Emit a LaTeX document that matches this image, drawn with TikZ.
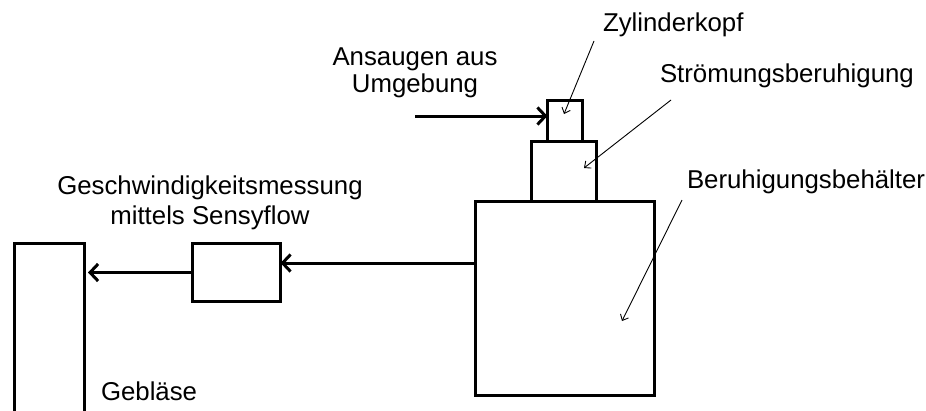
\documentclass[tikz,border=0pt]{standalone}
\usepackage{fontspec}
\setmainfont{Liberation Sans}
\usetikzlibrary{arrows.meta}
\begin{document}
\begin{tikzpicture}[x=1pt,y=-1pt,
  box/.style={draw, line width=3pt, inner sep=0pt, outer sep=0pt},
  lbl/.style={inner sep=0pt, outer sep=0pt, font=\fontsize{25.8}{26}\selectfont},
  flow/.style={line width=3pt, -{Straight Barb[length=8pt,width=17pt]}},
  lead/.style={line width=0.9pt, -{Straight Barb[length=5pt,width=9pt]}}]
\useasboundingbox (0,0) rectangle (926,410);
\clip (0,0) rectangle (926,410);
% boxes
\node[box, minimum width=70pt, minimum height=186pt] (geblaese) at (49,336.5) {};
\node[box, minimum width=88pt, minimum height=58pt] (sensy) at (236.5,272.5) {};
\node[box, minimum width=179pt, minimum height=194pt] (beh) at (565,298.5) {};
\node[box, minimum width=65pt, minimum height=60pt] (stroem) at (564,171.5) {};
\node[box, minimum width=35pt, minimum height=41pt] (zyl) at (565,121) {};
% labels
\node[lbl, anchor=base west] (tzyl) at (603,31) {Zylinderkopf};
\node[lbl, anchor=base west] (tstroem) at (660,82) {Strömungsberuhigung};
\node[lbl, anchor=base west] (tbeh) at (687,188) {Beruhigungsbehälter};
\node[lbl, anchor=base west] (tgeb) at (101,400) {Gebläse};
\node[lbl, anchor=north, align=center, font=\fontsize{25.8}{26.5}\selectfont] (tans) at (415,48) {Ansaugen aus\\Umgebung};
\node[lbl, anchor=north, align=center, font=\fontsize{25.8}{30}\selectfont] (tgesch) at (210,176) {Geschwindigkeitsmessung\\mittels Sensyflow};
% flow arrows
\coordinate (inlet) at (415,116);
\draw[flow] (inlet) -- (zyl.west |- inlet);
\draw[flow] (beh.west |- 0,263) -- (sensy.east |- 0,263);
\draw[flow] (sensy.west) -- ([xshift=4pt]geblaese.east |- sensy.west);
% leader lines
\coordinate (lz1) at (594,41);
\coordinate (lz2) at (564,114);
\coordinate (ls1) at (671,100);
\coordinate (ls2) at (584,168);
\coordinate (lb1) at (682,200);
\coordinate (lb2) at (622,321);
\draw[lead] (lz1) -- (lz2);
\draw[lead] (ls1) -- (ls2);
\draw[lead] (lb1) -- (lb2);
\end{tikzpicture}
\end{document}
